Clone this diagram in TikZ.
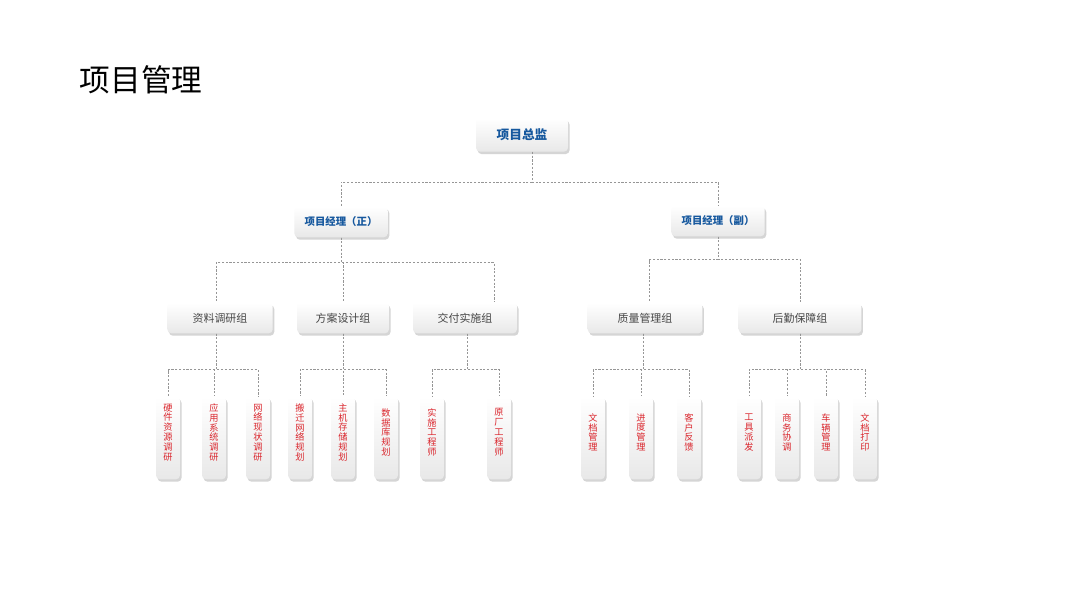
\documentclass[tikz,border=0pt]{standalone}
\usepackage{fontspec}
\newfontfamily\cjk{Noto Sans CJK SC}
\usetikzlibrary{positioning, calc, shadows}
\definecolor{pmBlue}{RGB}{22, 88, 158}
\definecolor{pmRed}{RGB}{218, 37, 44}
\definecolor{pmGray}{RGB}{70, 70, 70}
\definecolor{pmLine}{RGB}{150, 150, 150}
\newcommand{\leafpad}{\\[1.5pt]\mbox{}}
\tikzset{
  cardbox/.style={rectangle, draw=none, rounded corners=3pt,
                  top color=white, bottom color=black!9,
                  drop shadow={opacity=0.33, shadow xshift=1.2pt, shadow yshift=-1.8pt}},
  headbox/.style={cardbox, minimum width=69pt, minimum height=25pt,
                  text=pmBlue, font=\cjk\bfseries\fontsize{9.5}{11}\selectfont},
  mgrbox/.style={cardbox, minimum width=70pt, minimum height=23pt,
                 text=pmBlue, font=\cjk\bfseries\fontsize{7.8}{9}\selectfont},
  grpbox/.style={cardbox, minimum height=23pt,
                 text=pmGray, font=\cjk\fontsize{8.2}{10}\selectfont},
  leafbox/.style={cardbox, minimum width=18pt, minimum height=62pt,
                  inner xsep=1pt, align=center,
                  text=pmRed, font=\cjk\fontsize{6.9}{7.4}\selectfont},
  link/.style={draw=pmLine, line width=0.5pt, dash pattern=on 1.6pt off 1.2pt},
}
\begin{document}
\begin{tikzpicture}[x=0.75pt, y=-0.75pt]
    \fill[white] (0,0) rectangle (1080,608);
    \useasboundingbox (0,0) rectangle (1080,608);

    % Title
    \node[anchor=west, font=\cjk\fontsize{23}{26}\selectfont] (title) at (75,80) {项目管理};

    % Top: director and managers
    \node[headbox] (top) at (522,135) {项目总监};
    \node[mgrbox] (mgrL) at (341,222) {项目经理（正）};
    \node[mgrbox] (mgrR) at (718,221) {项目经理（副）};

    % Groups
    \node[grpbox, minimum width=79pt] (g1) at (220,318) {资料调研组};
    \node[grpbox, minimum width=69pt] (g2) at (343,318) {方案设计组};
    \node[grpbox, minimum width=78pt] (g3) at (465,318) {交付实施组};
    \node[grpbox, minimum width=86pt] (g4) at (645,318) {质量管理组};
    \node[grpbox, minimum width=92pt] (g5) at (800,318) {后勤保障组};

    % Leaves
    \node[leafbox] (l11) at (168,438) {硬\\件\\资\\源\\调\\研\leafpad};
    \node[leafbox] (l12) at (214,438) {应\\用\\系\\统\\调\\研\leafpad};
    \node[leafbox] (l13) at (258,438) {网\\络\\现\\状\\调\\研\leafpad};
    \node[leafbox] (l21) at (300,438) {搬\\迁\\网\\络\\规\\划\leafpad};
    \node[leafbox] (l22) at (343,438) {主\\机\\存\\储\\规\\划\leafpad};
    \node[leafbox] (l23) at (386,438) {数\\据\\库\\规\\划\leafpad};
    \node[leafbox] (l31) at (432,438) {实\\施\\工\\程\\师\leafpad};
    \node[leafbox] (l32) at (499,438) {原\\厂\\工\\程\\师\leafpad};
    \node[leafbox] (l41) at (593,438) {文\\档\\管\\理\leafpad};
    \node[leafbox] (l42) at (641,438) {进\\度\\管\\理\leafpad};
    \node[leafbox] (l43) at (689,438) {客\\户\\反\\馈\leafpad};
    \node[leafbox] (l51) at (749,438) {工\\具\\派\\发\leafpad};
    \node[leafbox] (l52) at (787,438) {商\\务\\协\\调\leafpad};
    \node[leafbox] (l53) at (826,438) {车\\辆\\管\\理\leafpad};
    \node[leafbox] (l54) at (865,438) {文\\档\\打\\印\leafpad};

    % Connections
    \foreach \m in {mgrL, mgrR}
      \draw[link] ([xshift=7.5pt]top.south) -- ++(0,30) -| (\m.north);
    \foreach \g/\s in {g1/-3pt, g2/0pt, g3/21.7pt}
      \draw[link] (mgrL.south) -- ++(0,25) -| ([xshift=\s]\g.north);
    \foreach \g/\s in {g4/3.4pt, g5/0pt}
      \draw[link] (mgrR.south) -- ++(0,23) -| ([xshift=\s]\g.north);
    \foreach \l in {l11, l12, l13}
      \draw[link] ([xshift=-3pt]g1.south) -- ++(0,36) -| (\l.north);
    \foreach \l in {l21, l22, l23}
      \draw[link] (g2.south) -- ++(0,36) -| (\l.north);
    \foreach \l in {l31, l32}
      \draw[link] ([xshift=1.5pt]g3.south) -- ++(0,36) -| (\l.north);
    \foreach \l in {l41, l42, l43}
      \draw[link] ([xshift=-1.5pt]g4.south) -- ++(0,36) -| (\l.north);
    \foreach \l in {l51, l52, l53, l54}
      \draw[link] (g5.south) -- ++(0,36) -| (\l.north);
  \end{tikzpicture}
\end{document}
